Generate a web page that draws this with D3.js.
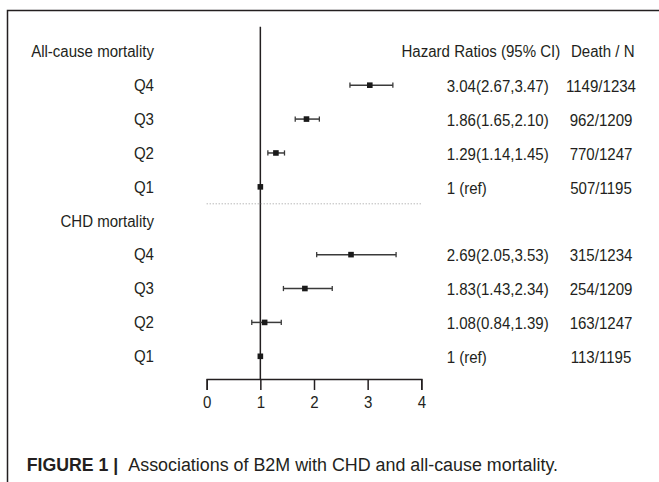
<!DOCTYPE html>
<html>
<head>
<meta charset="utf-8">
<script src="https://cdn.jsdelivr.net/npm/d3@7"></script>
<style>
  body { margin: 0; background: #fff; }
  text { font-family: "Liberation Sans", Arial, sans-serif; fill: #231f20; }
</style>
</head>
<body>
<div id="chart"></div>
<script>
// forest plot data
const groups = ["All-cause mortality", "CHD mortality"];
const quartiles = ["Q4", "Q3", "Q2", "Q1"];
const hrAll = [3.04, 1.86, 1.29, 1];
const lowAll = [2.67, 1.65, 1.14, null];
const highAll = [3.47, 2.10, 1.45, null];
const deathAll = ["1149/1234", "962/1209", "770/1247", "507/1195"];
const hrChd = [2.69, 1.83, 1.08, 1];
const lowChd = [2.05, 1.43, 0.84, null];
const highChd = [3.53, 2.34, 1.39, null];
const deathChd = ["315/1234", "254/1209", "163/1247", "113/1195"];
const xTicks = [0, 1, 2, 3, 4];

const width = 659, height = 482;
const fs = 16;        // font size, squeezed a bit horizontally below
const squeeze = 0.94;
const fmt = d3.format(".2f");

// build rows: header then four quartiles for each group
const rows = [];
const series = [
  { hr: hrAll, lo: lowAll, hi: highAll, death: deathAll },
  { hr: hrChd, lo: lowChd, hi: highChd, death: deathChd }
];
groups.forEach((g, gi) => {
  rows.push({ label: g, header: true });
  quartiles.forEach((q, qi) => {
    const s = series[gi];
    rows.push({
      label: q,
      hr: s.hr[qi], lo: s.lo[qi], hi: s.hi[qi], death: s.death[qi],
      text: s.lo[qi] == null ? "1 (ref)" : fmt(s.hr[qi]) + "(" + fmt(s.lo[qi]) + "," + fmt(s.hi[qi]) + ")"
    });
  });
});

const svg = d3.select("#chart").append("svg")
  .attr("width", width)
  .attr("height", height);

// figure frame (top + left rules)
svg.append("path")
  .attr("d", "M7.5,482V10.5H659")
  .attr("fill", "none")
  .attr("stroke", "#231f20")
  .attr("stroke-width", 1.5);

const x = d3.scaleLinear().domain([0, 4]).range([206.7, 421.3]);
const y = d3.scaleLinear().domain([0, rows.length - 1]).range([51.3, 356.3]);
const axisY = 379;

// reference line at HR = 1
svg.append("line")
  .attr("x1", x(1)).attr("x2", x(1))
  .attr("y1", y(0) - 24.5).attr("y2", axisY)
  .attr("stroke", "#231f20")
  .attr("stroke-width", 1.5);

// dotted separator between the two groups
svg.append("line")
  .attr("x1", x(0)).attr("x2", x(4))
  .attr("y1", (y(4) + y(5)) / 2).attr("y2", (y(4) + y(5)) / 2)
  .attr("stroke", "#9a9a9a")
  .attr("stroke-width", 1)
  .attr("stroke-dasharray", "1,2");

// axis
const axis = svg.append("g")
  .attr("transform", "translate(0," + axisY + ")")
  .call(d3.axisBottom(x).tickValues(xTicks).tickFormat(d3.format("d")).tickSize(11).tickPadding(7));
axis.select(".domain").attr("stroke", "#231f20").attr("stroke-width", 1.5);
axis.selectAll(".tick line").attr("stroke", "#231f20").attr("stroke-width", 1.5);
axis.selectAll(".tick text")
  .attr("font-size", fs)
  .attr("font-family", "Liberation Sans, Arial, sans-serif")
  .attr("fill", "#231f20");

// left labels
svg.selectAll(".lab")
  .data(rows)
  .enter().append("text")
  .attr("class", "lab")
  .attr("x", 154)
  .attr("y", d => y(rows.indexOf(d)))
  .attr("dy", "0.36em")
  .attr("text-anchor", "end")
  .attr("font-size", fs)
  .text(d => d.label);

const dataRows = rows.map((d, i) => Object.assign({ i: i }, d)).filter(d => !d.header);
const ciRows = dataRows.filter(d => d.lo != null);

// confidence intervals
svg.selectAll(".ci")
  .data(ciRows)
  .enter().append("line")
  .attr("x1", d => x(d.lo)).attr("x2", d => x(d.hi))
  .attr("y1", d => y(d.i)).attr("y2", d => y(d.i))
  .attr("stroke", "#3a3a3a")
  .attr("stroke-width", 1.5);

svg.selectAll(".capL")
  .data(ciRows.flatMap(d => [{ v: d.lo, i: d.i }, { v: d.hi, i: d.i }]))
  .enter().append("line")
  .attr("x1", d => x(d.v)).attr("x2", d => x(d.v))
  .attr("y1", d => y(d.i) - 2.6).attr("y2", d => y(d.i) + 2.6)
  .attr("stroke", "#3a3a3a")
  .attr("stroke-width", 1.3);

// point estimates
svg.selectAll(".pt")
  .data(dataRows)
  .enter().append("rect")
  .attr("x", d => x(d.hr) - 2.8)
  .attr("y", d => y(d.i) - 2.8)
  .attr("width", 5.6)
  .attr("height", 5.6)
  .attr("fill", "#1a1a1a");

// right-hand columns
svg.append("text")
  .attr("class", "lab")
  .attr("x", 401.5).attr("y", y(0))
  .attr("dy", "0.36em")
  .attr("font-size", fs)
  .text("Hazard Ratios (95% CI)");
svg.append("text")
  .attr("class", "lab")
  .attr("x", 571).attr("y", y(0))
  .attr("dy", "0.36em")
  .attr("font-size", fs)
  .text("Death / N");

svg.selectAll(".hrt")
  .data(dataRows)
  .enter().append("text")
  .attr("class", "lab")
  .attr("x", 446.7)
  .attr("y", d => y(d.i) + 1)
  .attr("dy", "0.36em")
  .attr("font-size", fs)
  .text(d => d.text);

svg.selectAll(".dn")
  .data(dataRows)
  .enter().append("text")
  .attr("class", "lab")
  .attr("x", 601)
  .attr("y", d => y(d.i) + 1)
  .attr("dy", "0.36em")
  .attr("text-anchor", "middle")
  .attr("font-size", fs)
  .text(d => d.death);

// squeeze the plot texts a little, like the original's typeface
svg.selectAll("text.lab, .tick text").each(function () {
  const len = this.getComputedTextLength();
  d3.select(this)
    .attr("textLength", len * squeeze)
    .attr("lengthAdjust", "spacingAndGlyphs");
});

// caption
svg.append("text")
  .attr("x", 26.7).attr("y", 470.7)
  .attr("font-size", 18)
  .attr("font-weight", "bold")
  .attr("textLength", 91.5)
  .attr("lengthAdjust", "spacingAndGlyphs")
  .text("FIGURE 1 |");
svg.append("text")
  .attr("x", 128.3).attr("y", 470.7)
  .attr("font-size", 18)
  .attr("textLength", 429.7)
  .attr("lengthAdjust", "spacingAndGlyphs")
  .text("Associations of B2M with CHD and all-cause mortality.");
</script>
</body>
</html>
